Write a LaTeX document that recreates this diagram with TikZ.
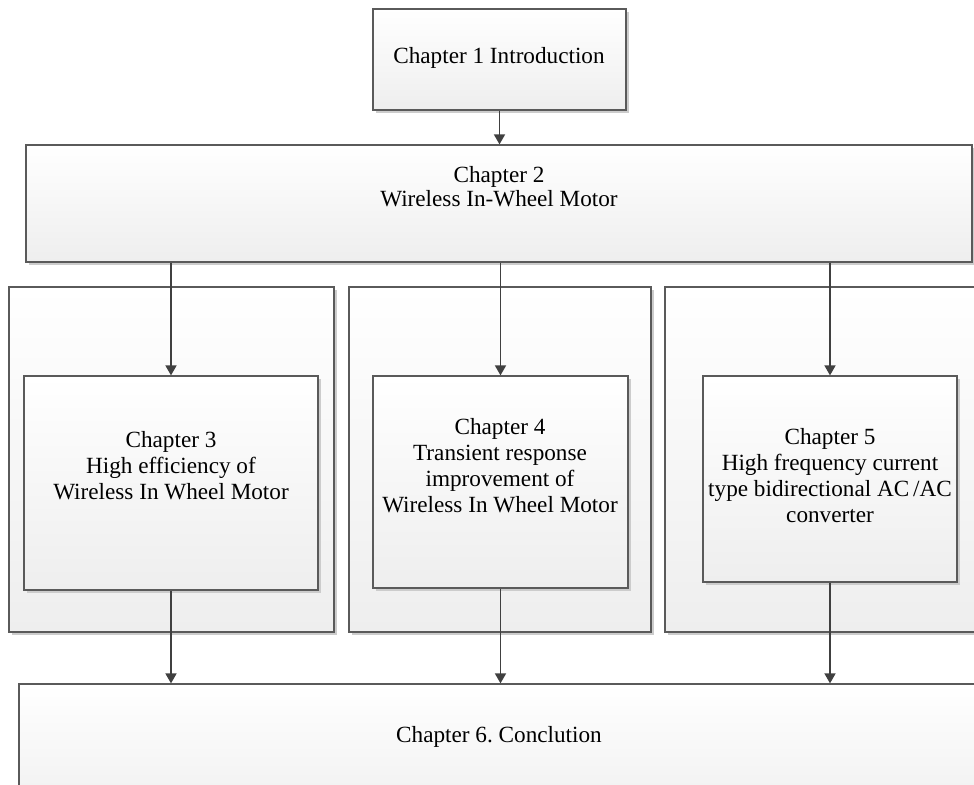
\documentclass[tikz,border=0pt]{standalone}
\usepackage{fontspec}
\setmainfont{Liberation Serif}
\usepackage{tikz,xcolor}
\usetikzlibrary{fit,shadows,arrows.meta}
\definecolor{boxline}{HTML}{5A5A5A}
\definecolor{arrowline}{HTML}{404040}
\definecolor{boxshade}{HTML}{EEEEEE}
\frenchspacing
\tikzset{
  chapbox/.style={draw=boxline, line width=0.6pt, inner sep=0pt,
    top color=white, bottom color=boxshade,
    drop shadow={shadow xshift=1.5pt, shadow yshift=-1.5pt, fill=black!20, opacity=1}},
  chaptext/.style={align=center, inner sep=0pt, font=\fontsize{11.6}{13}\selectfont},
  flow/.style={draw=arrowline, line width=0.8pt, -{Triangle[length=5pt,width=5.5pt]}}
}

\begin{document}
\begin{tikzpicture}[x=0.5pt,y=-0.5pt]
\useasboundingbox (0,0) rectangle (974,785);
\clip (0,0) rectangle (974,785);
% Chapter 1 and 2
\node[chapbox, fit={(373,9) (626,110)}] (ch1) {};
\node[chaptext] (t1) at (499,58) {Chapter 1 Introduction};
\node[chapbox, fit={(26,145) (972,262)}] (ch2) {};
\node[chaptext, font=\fontsize{11.6}{12}\selectfont] (t2) at (499,187) {Chapter 2\\Wireless In-Wheel Motor};
% Three outer frames
\node[chapbox, fit={(9,287) (334,632)}] (part3) {};
\node[chapbox, fit={(349,287) (651,632)}] (part4) {};
\node[chapbox, fit={(665,287) (1000,632)}] (part5) {};
% Chapter 3, 4, 5
\node[chapbox, fit={(24,376) (318,590)}] (ch3) {};
\node[chaptext] (t3) at (171,466) {Chapter 3\\High efficiency of\\Wireless In Wheel Motor};
\node[chapbox, fit={(373,376) (628,588)}] (ch4) {};
\node[chaptext] (t4) at (500,466) {Chapter 4\\Transient response\\improvement of\\Wireless In Wheel Motor};
\node[chapbox, fit={(703,376) (957,582)}] (ch5) {};
\node[chaptext] (t5) at (830,476) {Chapter 5\\High frequency current\\type bidirectional AC\,/AC\\converter};
% Chapter 6
\node[chapbox, fit={(19,684) (1000,830)}] (ch6) {};
\node[chaptext] (t6) at (499,737) {Chapter 6. Conclution};
% arrows
\draw[flow] (ch1.south) -- (ch1.south |- ch2.north);
\draw[flow] (ch3.north |- ch2.south) -- (ch3.north);
\draw[flow] (ch4.north |- ch2.south) -- (ch4.north);
\draw[flow] (ch5.north |- ch2.south) -- (ch5.north);
\draw[flow] (ch3.south) -- (ch3.south |- ch6.north);
\draw[flow] (ch4.south) -- (ch4.south |- ch6.north);
\draw[flow] (ch5.south) -- (ch5.south |- ch6.north);
\end{tikzpicture}
\end{document}
